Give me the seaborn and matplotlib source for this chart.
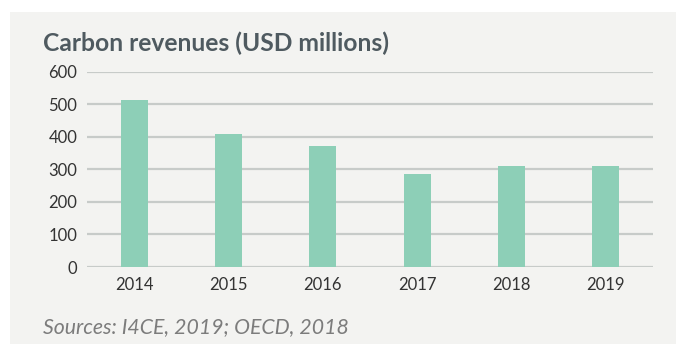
import matplotlib
matplotlib.use("Agg")
import matplotlib.pyplot as plt
import seaborn as sns
import pandas as pd
from matplotlib.patches import Rectangle

years = ["2014", "2015", "2016", "2017", "2018", "2019"]
revenues = [513, 408, 372, 285, 309, 310]
y_ticks = [0, 100, 200, 300, 400, 500, 600]

title_text = "Carbon revenues (USD millions)"
source_text = "Sources: I4CE, 2019; OECD, 2018"

bar_color = "#8dcfb7"
panel_color = "#f3f3f1"
grid_color = "#c7cbc9"
text_color = "#333333"
title_color = "#4f5a60"

sns.set_theme(style="white")
plt.rcParams["font.family"] = ["Lato", "DejaVu Sans"]

W, H = 676, 344
fig = plt.figure(figsize=(W / 100, H / 100), dpi=100, facecolor="white")

# light panel behind the chart
panel = Rectangle((10 / W, 0), 1 - 10 / W, 1 - 12 / H,
                  transform=fig.transFigure, facecolor=panel_color,
                  edgecolor="none", zorder=-10)
fig.add_artist(panel)

ax = fig.add_axes([87 / W, (H - 267) / H, (653 - 87) / W, (267 - 71.7) / H])
ax.set_facecolor("none")

df = pd.DataFrame({"year": years, "revenue": revenues})
sns.barplot(data=df, x="year", y="revenue", color=bar_color, saturation=1,
            width=0.283, linewidth=0, edgecolor=bar_color, ax=ax, zorder=3)

ax.set_xlim(-0.5, len(years) - 0.5)
ax.set_ylim(0, 600)
ax.set_yticks(y_ticks)
ax.set_yticklabels([str(t) for t in y_ticks])
ax.set_xlabel("")
ax.set_ylabel("")

ax.yaxis.grid(True, color=grid_color, linewidth=1.6)
ax.set_axisbelow(True)
for s in ax.spines.values():
    s.set_visible(False)

ax.tick_params(axis="y", length=0, pad=7, labelsize=12, labelcolor=text_color)
ax.tick_params(axis="x", length=0, pad=7, labelsize=12, labelcolor=text_color)

fig.text(43 / W, 1 - 43 / H, title_text, fontsize=17.7, fontweight="bold",
         color=title_color, va="center", ha="left")
fig.text(43 / W, 1 - 327 / H, source_text, fontsize=15.3, fontstyle="italic",
         fontweight="normal", color="#7c7c7c", va="center", ha="left")

fig.savefig("out.png", dpi=100, facecolor="white")
